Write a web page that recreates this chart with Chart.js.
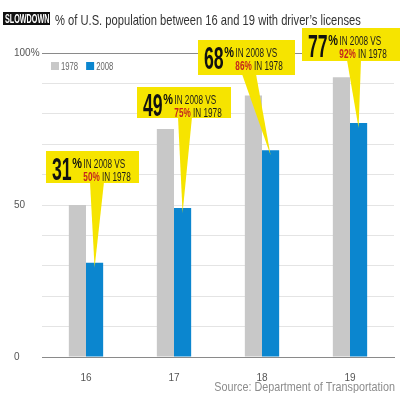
<!DOCTYPE html>
<html>
<head>
<meta charset="utf-8">
<script src="https://cdn.jsdelivr.net/npm/chart.js@4.4.1/dist/chart.umd.min.js"></script>
<style>
  html, body { margin: 0; padding: 0; background: #fff; }
  #wrap { position: relative; width: 400px; height: 393px; }
</style>
</head>
<body>
<div id="wrap"><canvas id="chart" width="400" height="393"></canvas></div>
<script>
"use strict";

// data
const categories = ["16", "17", "18", "19"];
const seriesNames = ["1978", "2008"];
const share1978 = [50, 75, 86, 92];
const share2008 = [31, 49, 68, 77];
const yTickLabels = { 0: "0", 50: "50", 100: "100%" };

const titleTag = "SLOWDOWN";
const titleText = "% of U.S. population between 16 and 19 with driver\u2019s licenses";
const sourceText = "Source: Department of Transportation";

// callout layout (box position + pointer base), one per category
const calloutBoxes = [
  { x: 46, y: 151, w: 93, h: 32, base: 97 },
  { x: 137, y: 87, w: 94, h: 31, base: 185 },
  { x: 198, y: 40, w: 97, h: 35, base: 249 },
  { x: 302, y: 28, w: 98, h: 33, base: 354 },
];

const GRAY = "#c8c8c8";
const BLUE = "#0b86cf";
const YELLOW = "#f6e400";
const RED = "#c4261d";
const FONT = "'Liberation Sans', Arial, sans-serif";
const TICK_FONT = { family: "'Liberation Sans', Arial, sans-serif", size: 10 };

function drawCond(ctx, text, x, y, font, color, sx) {
  ctx.save();
  ctx.font = font;
  ctx.fillStyle = color;
  ctx.textAlign = "left";
  ctx.textBaseline = "alphabetic";
  ctx.translate(x, y);
  ctx.scale(sx, 1);
  ctx.fillText(text, 0, 0);
  const w = ctx.measureText(text).width * sx;
  ctx.restore();
  return w;
}

const decorations = {
  id: "decorations",
  afterDraw(chart) {
    const ctx = chart.ctx;

    // title
    ctx.save();
    ctx.fillStyle = "#111";
    ctx.fillRect(3, 12, 47, 13);
    ctx.restore();
    drawCond(ctx, titleTag, 5, 23, `bold 12px ${FONT}`, "#fff", 0.6);
    drawCond(ctx, titleText, 55, 25, `15px ${FONT}`, "#333", 0.745);

    // legend
    const colors = [GRAY, BLUE];
    let lx = 51;
    seriesNames.forEach((name, i) => {
      ctx.fillStyle = colors[i];
      ctx.fillRect(lx, 62, 8, 8);
      const w = drawCond(ctx, name, lx + 10, 70, `11px ${FONT}`, "#666", 0.7);
      lx += 10 + w + 8;
    });

    // callouts
    const meta = chart.getDatasetMeta(1);
    calloutBoxes.forEach((b, i) => {
      const bar = meta.data[i];
      ctx.save();
      ctx.fillStyle = YELLOW;
      ctx.fillRect(b.x, b.y, b.w, b.h);
      ctx.beginPath();
      ctx.moveTo(b.base - 7, b.y + b.h - 1);
      ctx.lineTo(b.base + 7, b.y + b.h - 1);
      ctx.lineTo(bar.x, bar.y + 5);
      ctx.closePath();
      ctx.fill();
      ctx.restore();

      const top = b.y + 7;
      const x0 = b.x + 6;
      const wn = drawCond(ctx, String(share2008[i]), x0, top + 22, `bold 31px ${FONT}`, "#111", 0.57);
      const wp = drawCond(ctx, "%", x0 + wn + 0.5, top + 10, `bold 14px ${FONT}`, "#111", 0.78);
      const tx = x0 + wn + wp + 2;
      drawCond(ctx, "IN 2008 VS", tx, top + 10, `13px ${FONT}`, "#1a1a1a", 0.63);
      const wr = drawCond(ctx, share1978[i] + "%", tx, top + 23, `bold 13px ${FONT}`, RED, 0.63);
      drawCond(ctx, " IN 1978", tx + wr, top + 23, `13px ${FONT}`, "#1a1a1a", 0.63);
    });

    // source
    ctx.save();
    ctx.font = `13px ${FONT}`;
    const sw = ctx.measureText(sourceText).width * 0.83;
    ctx.restore();
    drawCond(ctx, sourceText, 395 - sw, 391, `13px ${FONT}`, "#8c8c8c", 0.83);
  },
};

new Chart(document.getElementById("chart"), {
  type: "bar",
  data: {
    labels: categories,
    datasets: [
      { label: seriesNames[0], data: share1978, backgroundColor: GRAY },
      { label: seriesNames[1], data: share2008, backgroundColor: BLUE },
    ],
  },
  options: {
    responsive: false,
    animation: false,
    events: [],
    layout: { padding: { top: 53, left: 14, right: 6, bottom: 0 } },
    datasets: { bar: { categoryPercentage: 0.39, barPercentage: 1 } },
    plugins: { legend: { display: false }, tooltip: { enabled: false } },
    scales: {
      x: {
        grid: { display: false },
        border: { color: "#8a8a8a", width: 1 },
        ticks: { color: "#555", font: TICK_FONT, padding: 7 },
        afterFit: (s) => { s.height = 36; },
      },
      y: {
        min: 0,
        max: 100,
        border: { display: false },
        grid: {
          drawTicks: false,
          color: (c) => (c.tick.value === 100 ? "#8a8a8a" : "#e4e4e4"),
        },
        ticks: {
          stepSize: 10,
          autoSkip: false,
          crossAlign: "far",
          padding: 2,
          color: "#555",
          font: TICK_FONT,
          callback: (v) => (v in yTickLabels ? yTickLabels[v] : ""),
        },
        afterFit: (s) => { s.width = 28; },
      },
    },
  },
  plugins: [decorations],
});
</script>
</body>
</html>
